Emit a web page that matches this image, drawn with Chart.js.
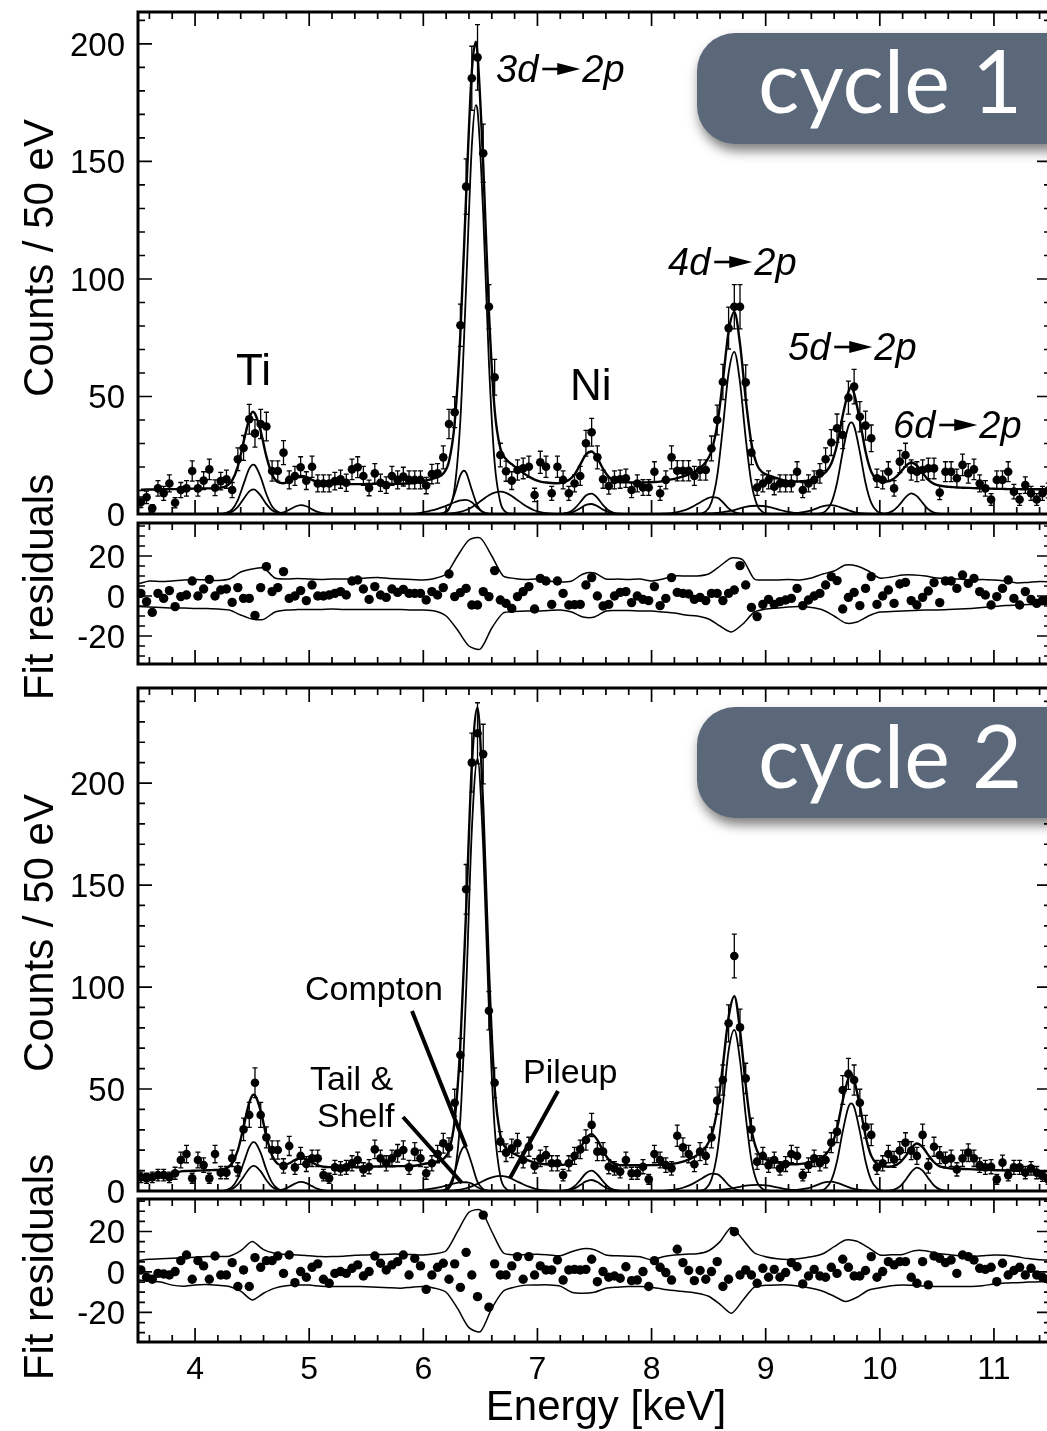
<!DOCTYPE html>
<html>
<head>
<meta charset="utf-8">
<script src="https://cdn.jsdelivr.net/npm/chart.js@4.4.1/dist/chart.umd.min.js"></script>
<style>
html, body { margin: 0; padding: 0; background: #fff; }
body { width: 1047px; height: 1431px; position: relative; overflow: hidden; }
canvas { position: absolute; left: 0; }
</style>
</head>
<body>
<canvas id="specA" width="1060" height="540" style="top:0px"></canvas>
<canvas id="resA" width="1060" height="290" style="top:440px"></canvas>
<canvas id="specB" width="1060" height="535" style="top:682px"></canvas>
<canvas id="resB" width="1060" height="331" style="top:1100px"></canvas>
<script>
// 50 eV bins, first bin centre at 3.525 keV
const binStart = 3.525, binWidth = 0.05;

// cycle 1: counts per bin
const counts1 = [
  5.0, 7.1, 2.4, 10.9, 8.8, 13.0, 4.8, 10.2, 10.9, 18.3,
  10.9, 14.2, 19.0, 11.2, 14.0, 14.8, 10.2, 23.3, 28.1, 40.3,
  34.3, 38.3, 37.2, 18.3, 18.3, 26.1, 14.5, 16.2, 19.9, 14.2,
  20.1, 13.0, 13.0, 13.0, 14.0, 14.8, 13.3, 19.0, 19.9, 16.2,
  11.1, 17.3, 13.3, 12.3, 16.2, 14.5, 15.9, 14.5, 14.5, 14.5,
  12.1, 17.0, 17.3, 24.1, 38.3, 43.3, 80.3, 139.3, 185.4, 194.3,
  153.5, 88.2, 58.2, 25.1, 18.2, 14.2, 18.7, 19.4, 20.1, 8.1,
  22.0, 20.1, 8.8, 20.1, 14.5, 8.8, 13.0, 16.2, 30.1, 34.8,
  24.1, 14.8, 11.9, 14.5, 14.8, 15.2, 10.2, 13.0, 11.3, 11.3,
  18.0, 8.8, 14.5, 24.1, 18.4, 18.4, 18.4, 16.2, 18.7, 18.7,
  27.9, 40.0, 56.2, 79.1, 88.2, 88.2, 56.0, 26.1, 11.3, 13.0,
  14.5, 11.6, 13.0, 13.0, 13.0, 18.0, 10.2, 13.0, 14.5, 17.3,
  23.3, 30.4, 36.5, 33.6, 49.5, 54.2, 41.4, 37.6, 32.2, 15.2,
  14.5, 18.0, 10.9, 22.3, 25.1, 18.7, 18.0, 18.7, 19.4, 19.4,
  9.1, 18.0, 18.0, 15.2, 20.9, 17.3, 19.0, 13.0, 10.9, 6.2,
  14.5, 14.5, 18.0, 9.5, 6.2, 12.3, 8.8, 6.2, 8.8, 10.0
];

// cycle 1: total fit at bin centres, plus apex points
const fit1 = [
  10.3, 10.4, 10.4, 10.5, 10.5, 10.6, 10.6, 10.7, 10.7, 10.8,
  10.8, 10.9, 10.9, 11.0, 11.2, 11.9, 14.3, 20.3, 30.6, 40.5,
  42.7, 35.3, 24.5, 16.8, 13.6, 13.1, 14.0, 15.4, 16.2, 15.8,
  14.5, 13.5, 12.9, 12.7, 12.7, 12.7, 12.7, 12.7, 12.7, 12.7,
  12.8, 12.8, 12.8, 12.8, 12.8, 12.9, 12.9, 13.0, 13.1, 13.7,
  14.3, 14.9, 15.7, 17.2, 22.4, 38.9, 76.9, 135.2, 188.2, 195.7,
  148.8, 85.9, 44.4, 28.0, 23.3, 21.2, 19.3, 17.5, 15.9, 14.6,
  13.8, 13.4, 13.2, 13.1, 13.5, 14.5, 16.8, 21.0, 25.3, 26.6,
  23.8, 19.2, 15.8, 14.1, 13.6, 13.5, 13.4, 13.4, 13.4, 13.5,
  13.6, 13.8, 14.2, 14.7, 15.3, 16.0, 16.9, 18.0, 19.6, 22.0,
  26.8, 37.8, 56.8, 77.6, 86.0, 72.4, 48.9, 30.1, 20.8, 17.6,
  16.4, 15.6, 14.8, 14.1, 13.9, 13.8, 14.0, 14.2, 15.0, 16.1,
  17.8, 21.5, 29.5, 41.9, 52.0, 51.2, 39.9, 26.6, 18.0, 14.6,
  13.8, 14.0, 15.1, 17.4, 20.3, 21.9, 20.6, 17.5, 14.5, 12.8,
  12.1, 11.7, 11.5, 11.3, 11.2, 11.1, 11.0, 10.9, 10.8, 10.8,
  10.7, 10.7, 10.6, 10.6, 10.6, 10.5, 10.5, 10.5, 10.5, 10.4
];
const fitPeaks1 = [[4.505, 43.5], [6.46, 201.0], [9.75, 54.0]];

// cycle 1: fit components [keV, counts]
const c1TiA = [[4.175,0],[4.225,0.1],[4.275,0.5],[4.325,2.0],[4.375,5.9],[4.425,12.7],[4.475,19.3],[4.51,21.0],[4.525,20.7],[4.575,15.7],[4.625,8.4],[4.675,3.2],[4.725,0.9],[4.775,0.2],[4.825,0]];
const c1TiB = [[4.225,0],[4.275,0.25],[4.325,1.0],[4.375,3.0],[4.425,6.4],[4.475,9.6],[4.51,10.5],[4.525,10.3],[4.575,7.8],[4.625,4.2],[4.675,1.6],[4.725,0.45],[4.775,0.1],[4.825,0]];
const c1TiKb = [[4.675,0],[4.725,0.2],[4.775,0.7],[4.825,1.8],[4.875,3.1],[4.925,3.8],[4.975,3.3],[5.025,2.0],[5.075,0.9],[5.125,0.3],[5.175,0]];
const c1Tail3d = [[5.925,0],[5.975,0.5],[6.025,1.0],[6.075,1.5],[6.125,2.2],[6.175,3.0],[6.225,4.0],[6.275,5.0],[6.325,5.8],[6.375,6.0],[6.425,5.0],[6.475,2.5],[6.525,0.8],[6.575,0.1],[6.625,0]];
const c1Compton3d = [[6.125,0],[6.175,0.4],[6.225,2.5],[6.275,8.6],[6.325,16.5],[6.355,18.4],[6.375,17.6],[6.425,10.3],[6.475,3.4],[6.525,0.6],[6.575,0]];
const c1Main3d = [[6.125,0],[6.175,0.3],[6.225,2.2],[6.275,11.3],[6.325,40.2],[6.375,96.4],[6.425,156.5],[6.46,174],[6.475,171.8],[6.525,127.6],[6.575,64.3],[6.625,21.8],[6.675,5.0],[6.725,0.8],[6.775,0.1],[6.825,0]];
const c1Pileup3d = [[6.175,0],[6.225,0.2],[6.275,0.45],[6.325,0.9],[6.375,1.7],[6.425,2.9],[6.475,4.5],[6.525,6.3],[6.575,8.0],[6.625,9.1],[6.675,9.5],[6.725,9.0],[6.775,7.7],[6.825,5.9],[6.875,4.2],[6.925,2.7],[6.975,1.5],[7.025,0.8],[7.075,0.4],[7.125,0.15],[7.175,0]];
const c1NiA = [[7.175,0],[7.225,0.2],[7.275,0.7],[7.325,2.3],[7.375,5.0],[7.425,7.9],[7.475,8.7],[7.525,6.9],[7.575,3.8],[7.625,1.5],[7.675,0.4],[7.725,0.1],[7.775,0]];
const c1NiB = [[7.225,0],[7.275,0.35],[7.325,1.1],[7.375,2.45],[7.425,3.85],[7.475,4.25],[7.525,3.35],[7.575,1.85],[7.625,0.75],[7.675,0.2],[7.725,0]];
const c1Compton4d = [[8.075,0],[8.125,0.2],[8.175,0.4],[8.225,0.8],[8.275,1.4],[8.325,2.3],[8.375,3.5],[8.425,4.9],[8.475,6.3],[8.525,7.2],[8.575,7.0],[8.625,5.0],[8.675,2.4],[8.725,0.8],[8.775,0.2],[8.825,0]];
const c1Main4d = [[8.375,0],[8.425,0.2],[8.475,1.1],[8.525,5.0],[8.575,16.1],[8.625,36.9],[8.675,60.0],[8.725,69.0],[8.775,56.0],[8.825,32.2],[8.875,13.1],[8.925,3.8],[8.975,0.8],[9.025,0.1],[9.075,0]];
const c1Pileup4d = [[8.425,0],[8.475,0.2],[8.525,0.3],[8.575,0.5],[8.625,0.8],[8.675,1.2],[8.725,1.7],[8.775,2.4],[8.825,3.0],[8.875,3.4],[8.925,3.5],[8.975,3.4],[9.025,3.0],[9.075,2.4],[9.125,1.7],[9.175,1.1],[9.225,0.7],[9.275,0.4],[9.325,0.2],[9.375,0]];
const c1Compton5d = [[9.175,0],[9.225,0.2],[9.275,0.4],[9.325,0.8],[9.375,1.2],[9.425,2.0],[9.475,2.9],[9.525,3.6],[9.575,3.8],[9.625,3.3],[9.675,2.5],[9.725,1.6],[9.775,0.8],[9.825,0.4],[9.875,0.2],[9.925,0]];
const c1Main5d = [[9.425,0],[9.475,0.2],[9.525,1.2],[9.575,4.7],[9.625,13.2],[9.675,26.4],[9.725,37.4],[9.75,39.0],[9.775,37.4],[9.825,26.4],[9.875,13.2],[9.925,4.7],[9.975,1.2],[10.025,0.2],[10.075,0]];
const c1Main6d = [[9.975,0],[10.025,0.1],[10.075,0.5],[10.125,1.7],[10.175,4.1],[10.225,7.1],[10.275,8.8],[10.325,7.6],[10.375,4.7],[10.425,2.0],[10.475,0.6],[10.525,0.15],[10.575,0]];

// cycle 1: fit residuals per bin
const resid1 = [
  1.3, -2.8, -8.2, 1.3, -1.2, 2.7, -5.3, -0.3, 0.5, 7.5,
  0.0, 3.5, 8.3, 0.0, 3.0, 3.5, -3.2, 4.2, -1.2, -1.2,
  -9.7, 4.2, 14.7, 2.2, 4.2, 12.2, -1.2, 0.0, 2.7, -2.3,
  5.5, 0.0, 0.0, 0.5, 1.3, 2.2, 0.5, 7.5, 8.0, 3.5,
  -1.7, 4.7, 0.5, -0.7, 3.5, 1.8, 3.3, 1.3, 1.3, 1.3,
  -2.0, 2.2, 0.5, 4.2, 11.0, -0.3, 1.7, 3.8, -4.5, -4.5,
  2.2, -0.3, 12.7, -2.0, -3.7, -6.2, -0.3, 2.2, 4.7, -6.5,
  8.8, 7.5, -4.2, 7.5, 1.3, -4.5, -4.3, -4.2, 5.5, 9.2,
  0.0, -5.0, -4.2, 0.0, 1.8, 2.2, -3.3, 0.0, -1.7, -2.3,
  4.7, -4.8, -1.2, 9.2, 1.8, 1.3, 1.0, -1.7, -0.7, -2.3,
  1.3, 1.3, -2.3, 1.3, 3.0, 15.2, 5.5, -5.7, -10.3, -4.2,
  -1.7, -4.2, -2.8, -2.0, -1.2, 3.8, -4.8, -2.0, 0.0, 1.3,
  5.5, 9.7, 7.7, -6.5, -0.7, 1.8, -4.8, 3.8, 9.7, -4.2,
  0.0, 3.0, -3.7, 6.0, 6.8, -2.3, -4.5, -0.7, 2.5, 6.7,
  -3.3, 7.5, 7.5, 3.8, 10.5, 6.3, 8.8, 2.2, 0.5, -4.5,
  -0.3, 3.8, 8.0, -1.2, -4.5, 2.2, -1.7, -3.7, -2.3, -2.0
];

// residual envelope, sampled every 0.1 keV from 3.5 keV
const band1Hi = [
  6.0, 7.5, 7.2, 7.5, 8.0, 8.2, 8.0, 7.8, 8.5, 12.0,
  13.5, 14.0, 9.0, 8.5, 8.8, 8.5, 8.3, 8.5, 8.5, 8.6,
  9.0, 9.2, 8.8, 8.5, 8.3, 8.0, 8.8, 11.0, 20.0, 28.0,
  29.0, 20.0, 10.0, 8.8, 8.3, 8.5, 7.5, 7.0, 7.5, 11.0,
  11.5, 8.5, 8.5, 8.3, 8.5, 7.5, 8.5, 10.0, 10.0, 10.0,
  11.0, 15.0, 19.0, 18.0, 8.5, 8.0, 8.0, 8.2, 8.0, 9.0,
  11.0, 12.5, 15.5, 15.0, 12.5, 9.0, 9.5, 10.5, 10.5, 10.0,
  9.0, 8.8, 8.5, 8.0, 8.3, 8.0, 7.5, 6.5, 6.8, 7.2,
  7.0
];
const band1Lo = [
  -5.3, -5.5, -5.7, -6.0, -6.0, -6.2, -6.2, -6.5, -7.0, -9.5,
  -11.5, -11.7, -8.0, -7.0, -6.8, -6.7, -6.7, -6.5, -6.7, -6.7,
  -6.8, -6.7, -6.8, -6.7, -7.0, -7.0, -7.5, -10.0, -17.0, -25.0,
  -26.5, -16.0, -8.5, -7.8, -7.5, -7.5, -7.2, -7.0, -8.0, -10.5,
  -10.5, -7.5, -7.3, -7.3, -7.5, -7.5, -8.0, -8.5, -9.5, -10.0,
  -11.5, -15.0, -18.0, -14.0, -8.0, -6.5, -6.0, -5.5, -5.3, -5.8,
  -7.0, -10.0, -13.5, -13.0, -10.0, -8.0, -7.8, -7.5, -7.3, -7.0,
  -7.0, -6.8, -6.5, -6.2, -5.8, -5.3, -4.8, -4.5, -4.3, -4.3,
  -4.3
];

// cycle 2: counts per bin
const counts2 = [
  6.7, 6.2, 6.7, 7.8, 7.8, 6.7, 8.7, 15.2, 18.1, 6.2,
  15.2, 12.7, 6.2, 18.1, 9.0, 9.0, 16.0, 10.6, 30.2, 37.3,
  53.1, 37.3, 26.3, 20.1, 20.1, 12.3, 22.1, 11.6, 17.2, 13.2,
  16.0, 16.0, 7.8, 6.2, 11.6, 11.1, 11.6, 13.6, 15.2, 10.6,
  11.9, 20.4, 16.0, 13.6, 16.0, 18.5, 20.1, 11.6, 19.3, 16.0,
  8.7, 13.6, 18.1, 23.4, 21.4, 43.3, 66.7, 147.9, 210.0, 224.4,
  214.2, 88.4, 53.1, 24.2, 18.8, 20.9, 23.4, 15.2, 21.7, 12.3,
  16.0, 17.6, 13.6, 13.6, 7.8, 13.6, 17.2, 20.4, 25.0, 32.4,
  19.3, 19.3, 11.9, 11.1, 9.5, 15.2, 8.7, 8.7, 11.9, 5.7,
  18.1, 15.2, 12.7, 11.1, 27.1, 21.4, 18.1, 13.1, 19.3, 17.2,
  26.3, 44.3, 54.4, 82.2, 115.2, 80.2, 55.2, 30.2, 14.4, 17.2,
  12.7, 15.2, 11.1, 13.2, 18.1, 17.2, 7.8, 12.7, 16.0, 13.6,
  15.2, 23.7, 29.1, 49.5, 57.4, 54.4, 43.3, 31.5, 27.5, 11.6,
  13.6, 18.1, 15.5, 19.8, 23.7, 19.8, 17.2, 27.5, 12.3, 21.7,
  17.6, 15.2, 16.0, 10.6, 16.0, 18.8, 16.0, 12.7, 11.6, 11.9,
  5.7, 13.9, 7.8, 11.6, 11.6, 9.0, 11.1, 9.0, 7.4, 5.7
];

const fit2 = [
  8.0, 8.0, 8.1, 8.1, 8.2, 8.2, 8.6, 9.6, 9.8, 9.9,
  10.0, 10.1, 10.2, 10.3, 10.5, 11.2, 13.6, 20.0, 31.4, 43.3,
  46.9, 39.3, 26.8, 17.4, 13.3, 12.6, 13.6, 15.2, 16.1, 15.5,
  14.0, 12.6, 11.9, 11.7, 11.7, 11.7, 11.8, 11.8, 11.8, 11.9,
  11.9, 12.0, 12.0, 12.1, 12.1, 12.2, 12.2, 12.3, 12.4, 12.9,
  13.5, 14.0, 14.5, 15.7, 19.9, 34.8, 72.3, 137.5, 208.7, 237.0,
  187.5, 107.8, 50.9, 27.4, 20.9, 18.9, 17.4, 16.1, 14.9, 14.0,
  13.4, 13.1, 12.9, 12.8, 12.8, 13.6, 16.1, 20.8, 25.9, 27.9,
  25.0, 19.7, 15.4, 13.4, 12.7, 12.6, 12.6, 12.6, 12.6, 12.7,
  12.7, 12.8, 13.0, 13.3, 13.7, 14.4, 15.4, 16.8, 18.6, 21.5,
  27.2, 39.8, 61.7, 85.2, 95.5, 78.9, 51.9, 30.3, 19.7, 16.1,
  15.1, 14.3, 13.7, 13.2, 13.1, 13.1, 13.4, 13.7, 14.6, 15.9,
  17.9, 22.0, 30.8, 44.4, 55.3, 54.4, 41.8, 27.0, 17.2, 13.3,
  12.1, 11.9, 12.3, 13.9, 17.0, 20.9, 23.3, 21.5, 17.6, 14.1,
  12.1, 11.5, 11.0, 10.9, 10.8, 10.7, 10.6, 10.5, 10.4, 10.3,
  10.2, 10.1, 10.0, 10.0, 9.9, 9.9, 9.8, 9.8, 9.7, 9.7
];
const fitPeaks2 = [[4.51, 47.2], [9.75, 57.5]];

const c2TiA = [[4.175,0],[4.225,0.07],[4.275,0.45],[4.325,2.0],[4.375,6.2],[4.425,13.7],[4.475,21.5],[4.51,24.0],[4.525,23.8],[4.575,18.7],[4.625,10.4],[4.675,4.1],[4.725,1.1],[4.775,0.2],[4.825,0]];
const c2TiB = [[4.225,0],[4.275,0.23],[4.325,1.0],[4.375,3.2],[4.425,7.0],[4.475,11.0],[4.51,12.3],[4.525,12.2],[4.575,9.6],[4.625,5.3],[4.675,2.1],[4.725,0.6],[4.775,0.1],[4.825,0]];
const c2TiKb = [[4.675,0],[4.725,0.25],[4.775,0.85],[4.825,2.1],[4.875,3.6],[4.925,4.5],[4.975,3.9],[5.025,2.4],[5.075,1.0],[5.125,0.3],[5.175,0]];
const c2Tail3d = [[5.925,0],[5.975,0.4],[6.025,0.8],[6.075,1.2],[6.125,1.7],[6.175,2.3],[6.225,3.0],[6.275,3.7],[6.325,4.2],[6.375,4.3],[6.425,3.6],[6.475,1.8],[6.525,0.6],[6.575,0.1],[6.625,0]];
const c2Compton3d = [[6.125,0],[6.175,0.4],[6.225,2.5],[6.275,9.2],[6.325,18.8],[6.36,21.7],[6.375,21.1],[6.425,13.2],[6.475,4.5],[6.525,0.9],[6.575,0.1],[6.625,0]];
const c2Main3d = [[6.125,0],[6.175,0.15],[6.225,1.4],[6.275,8.7],[6.325,35.8],[6.375,97.9],[6.425,176.8],[6.475,212.0],[6.525,168.3],[6.575,88.6],[6.625,31.0],[6.675,7.2],[6.725,1.1],[6.775,0.1],[6.825,0]];
const c2Pileup3d = [[6.175,0],[6.225,0.15],[6.275,0.35],[6.325,0.7],[6.375,1.35],[6.425,2.3],[6.475,3.5],[6.525,4.9],[6.575,6.2],[6.625,7.1],[6.675,7.4],[6.725,7.0],[6.775,6.0],[6.825,4.6],[6.875,3.3],[6.925,2.1],[6.975,1.2],[7.025,0.6],[7.075,0.3],[7.125,0.1],[7.175,0]];
const c2NiA = [[7.175,0],[7.225,0.16],[7.275,0.72],[7.325,2.3],[7.375,5.35],[7.425,8.7],[7.475,10.0],[7.525,8.1],[7.575,4.7],[7.625,1.9],[7.675,0.55],[7.725,0.1],[7.775,0]];
const c2NiB = [[7.175,0],[7.225,0.08],[7.275,0.4],[7.325,1.26],[7.375,2.9],[7.425,4.7],[7.475,5.4],[7.525,4.4],[7.575,2.5],[7.625,1.0],[7.675,0.3],[7.725,0.06],[7.775,0]];
const c2Compton4d = [[8.075,0],[8.125,0.2],[8.175,0.5],[8.225,0.9],[8.275,1.6],[8.325,2.6],[8.375,4.0],[8.425,5.6],[8.475,7.3],[8.525,8.5],[8.575,8.3],[8.625,6.0],[8.675,2.9],[8.725,1.0],[8.775,0.25],[8.825,0]];
const c2Main4d = [[8.375,0],[8.425,0.2],[8.475,1.2],[8.525,5.7],[8.575,18.4],[8.625,42.3],[8.675,68.7],[8.725,79.0],[8.775,64.1],[8.825,36.8],[8.875,15.0],[8.925,4.3],[8.975,0.9],[9.025,0.15],[9.075,0]];
const c2Pileup4d = [[8.425,0],[8.475,0.17],[8.525,0.26],[8.575,0.43],[8.625,0.7],[8.675,1.0],[8.725,1.5],[8.775,2.05],[8.825,2.6],[8.875,2.9],[8.925,3.0],[8.975,2.9],[9.025,2.6],[9.075,2.05],[9.125,1.5],[9.175,0.95],[9.225,0.6],[9.275,0.35],[9.325,0.17],[9.375,0]];
const c2Compton5d = [[9.175,0],[9.225,0.25],[9.275,0.5],[9.325,1.0],[9.375,1.45],[9.425,2.4],[9.475,3.5],[9.525,4.35],[9.575,4.6],[9.625,4.0],[9.675,3.0],[9.725,1.9],[9.775,1.0],[9.825,0.5],[9.875,0.25],[9.925,0]];
const c2Main5d = [[9.425,0],[9.475,0.2],[9.525,1.3],[9.575,5.2],[9.625,14.6],[9.675,29.2],[9.725,41.2],[9.75,43.0],[9.775,41.2],[9.825,29.2],[9.875,14.6],[9.925,5.2],[9.975,1.3],[10.025,0.2],[10.075,0]];
const c2Main6d = [[10.025,0],[10.075,0.13],[10.125,0.63],[10.175,2.2],[10.225,5.4],[10.275,9.3],[10.325,11.5],[10.375,10.0],[10.425,6.2],[10.475,2.7],[10.525,0.8],[10.575,0.2],[10.625,0]];

const resid2 = [
  1.0, -2.6, -3.6, -0.7, -1.0, -1.5, 0.2, 5.6, 8.4, -3.6,
  5.6, 3.0, -3.6, 7.9, -1.5, -1.5, 4.6, -7.2, 1.0, -7.2,
  7.1, 2.3, 5.6, 5.6, 7.9, -0.7, 8.4, -5.3, 0.2, -2.6,
  2.3, 4.0, -3.6, -5.6, -0.7, 0.2, -0.7, 1.8, 3.5, -2.0,
  0.2, 7.9, 4.3, 1.0, 3.5, 5.1, 8.4, -1.5, 6.7, 3.0,
  -8.6, -1.5, 2.3, 4.3, -3.6, 4.0, -7.6, 9.7, -1.5, -12.2,
  28.1, -17.4, 4.0, -1.5, -1.5, 3.0, 7.6, -3.6, 7.6, -1.5,
  3.0, 1.0, 1.0, 5.9, -4.0, 1.0, 1.3, 1.0, 1.3, 6.3,
  -4.8, 0.2, -2.6, -2.0, -3.1, 2.6, -4.3, -4.0, 0.2, -7.2,
  5.6, 2.3, -0.3, -4.0, 11.2, 4.6, 0.7, -4.3, 0.7, -3.6,
  0.2, 5.1, -7.2, -3.6, 19.9, -1.5, 1.0, -1.5, -5.6, 1.8,
  -2.6, 1.3, -2.6, -0.3, 4.6, 2.6, -5.9, -2.0, 1.3, -2.0,
  -2.6, 2.3, -0.7, 6.3, 2.3, -2.0, -2.0, 0.7, 7.6, -2.6,
  0.2, 5.1, 3.5, 5.1, 5.1, -2.6, -5.6, 5.1, -6.4, 7.9,
  6.7, 4.6, 5.9, -0.7, 8.4, 7.6, 5.9, 1.8, 1.3, 2.3,
  -4.8, 4.3, -1.5, 0.7, 2.3, -1.5, 1.8, -1.5, -2.6, -3.6
];

const band2Hi = [
  5.6, 6.3, 6.5, 6.8, 7.0, 7.3, 7.6, 7.6, 7.8, 10.5,
  15.0, 11.0, 9.2, 8.6, 8.4, 8.0, 7.6, 7.6, 7.8, 8.2,
  8.4, 8.6, 8.8, 8.8, 8.6, 8.4, 9.0, 10.5, 20.0, 29.5,
  30.6, 20.0, 9.5, 8.4, 8.5, 8.7, 8.4, 8.0, 10.0, 11.5,
  11.0, 8.4, 8.0, 7.8, 7.5, 6.0, 7.5, 8.4, 8.8, 9.0,
  10.5, 15.0, 22.0, 16.0, 9.5, 7.5, 6.5, 6.2, 6.7, 7.5,
  9.0, 12.5, 15.8, 15.2, 12.0, 8.4, 8.5, 8.6, 10.5, 10.5,
  9.2, 8.6, 8.0, 7.6, 8.0, 8.4, 8.2, 7.5, 6.6, 6.0,
  5.9
];
const band2Lo = [
  -4.0, -4.5, -5.0, -6.5, -7.0, -6.4, -6.2, -6.6, -7.2, -9.5,
  -13.8, -10.5, -8.0, -6.8, -6.4, -6.5, -7.0, -7.2, -7.2, -7.2,
  -7.3, -7.5, -7.8, -8.0, -7.5, -7.2, -8.0, -10.0, -18.0, -27.5,
  -29.5, -18.0, -9.5, -7.5, -6.5, -6.4, -6.4, -7.0, -10.0, -10.5,
  -10.0, -8.0, -7.5, -7.2, -7.2, -7.5, -8.5, -9.2, -9.8, -10.5,
  -12.0, -16.0, -20.4, -14.0, -7.5, -6.6, -6.4, -6.4, -7.0, -8.0,
  -9.5, -12.0, -14.6, -12.5, -9.0, -7.8, -6.8, -6.4, -6.6, -7.0,
  -7.2, -7.2, -7.2, -7.2, -6.8, -6.0, -5.5, -5.3, -5.0, -4.8,
  -4.8
];

const xTickLabels = [4, 5, 6, 7, 8, 9, 10, 11];
const countTickLabels = [0, 50, 100, 150, 200];
const residTickLabels = [-20, 0, 20];

const energies = counts1.map((_, k) => Math.round((binStart + binWidth * k) * 1000) / 1000);
const bandE = band1Hi.map((_, k) => Math.round((3.5 + 0.1 * k) * 10) / 10);

const FONT = '"Liberation Sans", Arial, Helvetica, sans-serif';

function xy(es, vs) { return vs.map((v, i) => ({ x: es[i], y: v })); }
function pairs(list) { return list.map(p => ({ x: p[0], y: p[1] })); }
function withPeaks(es, vs, peaks) {
  return xy(es, vs).concat(pairs(peaks)).sort((a, b) => a.x - b.x);
}

// inward ticks, frame, tick labels and axis title
function frame(cfg) {
  return {
    id: 'frame',
    afterDatasetsDraw(chart) {
      const { ctx, chartArea: a, scales: { x, y } } = chart;
      ctx.save();
      ctx.strokeStyle = '#000';
      ctx.lineWidth = 1.7;
      ctx.beginPath();
      for (let i = 18; i <= 57; i++) {
        const px = x.getPixelForValue(i / 5);
        const len = i % 5 === 0 ? 14 : 7;
        ctx.moveTo(px, a.bottom); ctx.lineTo(px, a.bottom - len);
        ctx.moveTo(px, a.top); ctx.lineTo(px, a.top + len);
      }
      for (let v = cfg.yStart; v < y.max; v += cfg.yMinor) {
        if (v <= y.min) continue;
        const py = y.getPixelForValue(v);
        const len = Math.abs(v % cfg.yMajor) < 1e-6 ? 14 : 7;
        ctx.moveTo(a.left, py); ctx.lineTo(a.left + len, py);
        ctx.moveTo(a.right, py); ctx.lineTo(a.right - len, py);
      }
      ctx.stroke();
      ctx.lineWidth = 3;
      ctx.strokeRect(a.left, a.top, a.right - a.left, a.bottom - a.top);

      ctx.fillStyle = '#000';
      ctx.font = '33px ' + FONT;
      ctx.textAlign = 'right';
      ctx.textBaseline = 'alphabetic';
      cfg.yLabels.forEach(v => ctx.fillText(String(v), a.left - 13, y.getPixelForValue(v) + 12));
      if (cfg.xLabels) {
        ctx.font = '32px ' + FONT;
        ctx.textAlign = 'center';
        cfg.xLabels.forEach(v => ctx.fillText(String(v), x.getPixelForValue(v), a.bottom + 37));
        ctx.font = '42px ' + FONT;
        ctx.fillText('Energy [keV]', 606, a.bottom + 78);
      }
      ctx.font = '42px ' + FONT;
      ctx.save();
      ctx.translate(53, cfg.titleY);
      ctx.rotate(-Math.PI / 2);
      ctx.textAlign = 'center';
      ctx.fillText(cfg.title, 0, 0);
      ctx.restore();
      ctx.restore();
    }
  };
}

// sqrt(N) error bars on dataset 0
const errorBars = {
  id: 'errorBars',
  afterDatasetsDraw(chart) {
    const ds = chart.data.datasets[0];
    if (!ds.errors) return;
    const meta = chart.getDatasetMeta(0);
    const { ctx, chartArea: a } = chart;
    const y = chart.scales.y;
    ctx.save();
    ctx.beginPath();
    ctx.rect(a.left, a.top, a.right - a.left, a.bottom - a.top);
    ctx.clip();
    ctx.strokeStyle = '#000';
    ctx.lineWidth = 1.3;
    ctx.beginPath();
    meta.data.forEach((pt, i) => {
      const v = ds.data[i].y, e = ds.errors[i];
      const t = y.getPixelForValue(v + e), b = y.getPixelForValue(v - e);
      ctx.moveTo(pt.x, t); ctx.lineTo(pt.x, b);
      ctx.moveTo(pt.x - 2.5, t); ctx.lineTo(pt.x + 2.5, t);
      ctx.moveTo(pt.x - 2.5, b); ctx.lineTo(pt.x + 2.5, b);
    });
    ctx.stroke();
    ctx.restore();
  }
};

function transition(ctx, x, y, from, to) {
  ctx.font = 'italic 38px ' + FONT;
  ctx.textAlign = 'left';
  ctx.textBaseline = 'alphabetic';
  ctx.fillText(from, x, y);
  const sx = x + ctx.measureText(from).width + 4;
  const ay = y - 13;
  ctx.lineWidth = 2.6;
  ctx.beginPath(); ctx.moveTo(sx, ay); ctx.lineTo(sx + 18, ay); ctx.stroke();
  ctx.beginPath();
  ctx.moveTo(sx + 15, ay - 6); ctx.lineTo(sx + 38, ay); ctx.lineTo(sx + 15, ay + 6);
  ctx.closePath(); ctx.fill();
  ctx.fillText(to, sx + 40, y);
}

function badge(ctx, x, top, h, text, baseline) {
  const r = 38, w = 600;
  ctx.save();
  ctx.shadowColor = 'rgba(0,0,0,0.5)';
  ctx.shadowBlur = 12;
  ctx.shadowOffsetX = 2;
  ctx.shadowOffsetY = 7;
  ctx.fillStyle = '#5b6879';
  ctx.beginPath();
  ctx.moveTo(x + r, top);
  ctx.lineTo(x + w, top);
  ctx.lineTo(x + w, top + h);
  ctx.lineTo(x + r, top + h);
  ctx.arcTo(x, top + h, x, top + h - r, r);
  ctx.lineTo(x, top + r);
  ctx.arcTo(x, top, x + r, top, r);
  ctx.closePath();
  ctx.fill();
  ctx.restore();
  ctx.save();
  ctx.font = '400 100px Lato, "Open Sans", sans-serif';
  const size = 100 * 264 / ctx.measureText('cycle 1').width;
  ctx.font = '400 ' + size.toFixed(1) + 'px Lato, "Open Sans", sans-serif';
  ctx.fillStyle = '#fff';
  ctx.textAlign = 'left';
  ctx.textBaseline = 'alphabetic';
  ctx.fillText(text, 758, baseline);
  ctx.restore();
}

const labelsA = {
  id: 'labelsA',
  afterDraw(chart) {
    const ctx = chart.ctx;
    ctx.save();
    ctx.fillStyle = '#000';
    ctx.strokeStyle = '#000';
    transition(ctx, 496, 82, '3d', '2p');
    transition(ctx, 668, 275, '4d', '2p');
    transition(ctx, 788, 360, '5d', '2p');
    transition(ctx, 893, 438, '6d', '2p');
    ctx.font = '44px ' + FONT;
    ctx.textAlign = 'left';
    ctx.fillText('Ti', 236, 385);
    ctx.fillText('Ni', 570, 400);
    badge(ctx, 697, 33, 111, 'cycle 1', 113);
    ctx.restore();
  }
};

const labelsB = {
  id: 'labelsB',
  afterDraw(chart) {
    const ctx = chart.ctx;
    ctx.save();
    ctx.fillStyle = '#000';
    ctx.strokeStyle = '#000';
    ctx.font = '34px ' + FONT;
    ctx.textAlign = 'left';
    ctx.fillText('Compton', 305, 318);
    ctx.fillText('Tail &', 310, 408);
    ctx.fillText('Shelf', 317, 445);
    ctx.fillText('Pileup', 523, 401);
    ctx.lineWidth = 4;
    ctx.beginPath();
    ctx.moveTo(412, 329); ctx.lineTo(466, 465);
    ctx.moveTo(403, 435); ctx.lineTo(462, 501);
    ctx.moveTo(558, 409); ctx.lineTo(510, 496);
    ctx.stroke();
    badge(ctx, 697, 25, 111, 'cycle 2', 106);
    ctx.restore();
  }
};

function spectrumData(counts, fit, peaks, comps) {
  const ds = [{
    type: 'scatter',
    data: xy(energies, counts),
    errors: counts.map(Math.sqrt),
    pointRadius: 4.3,
    pointBackgroundColor: '#000',
    pointBorderWidth: 0
  }, {
    type: 'line',
    data: withPeaks(energies, fit, peaks),
    borderColor: '#000',
    borderWidth: 2.4,
    pointRadius: 0,
    cubicInterpolationMode: 'monotone',
    fill: false
  }];
  comps.forEach(c => ds.push({
    type: 'line',
    data: pairs(c),
    borderColor: '#000',
    borderWidth: 1.8,
    pointRadius: 0,
    cubicInterpolationMode: 'monotone',
    fill: false
  }));
  return ds;
}

function residualData(resid, hi, lo) {
  const line = vs => ({
    type: 'line',
    data: xy(bandE, vs),
    borderColor: '#000',
    borderWidth: 1.5,
    pointRadius: 0,
    tension: 0.25,
    fill: false
  });
  return [{
    type: 'scatter',
    data: xy(energies, resid),
    pointRadius: 4.7,
    pointBackgroundColor: '#000',
    pointBorderWidth: 0
  }, line(hi), line(lo)];
}

function makeChart(id, datasets, yMin, yMax, padding, plugins) {
  return new Chart(document.getElementById(id), {
    type: 'scatter',
    data: { datasets },
    options: {
      responsive: false,
      animation: false,
      events: [],
      layout: { padding },
      scales: {
        x: { type: 'linear', min: 3.5, max: 11.5, display: false },
        y: { type: 'linear', min: yMin, max: yMax, display: false }
      },
      plugins: { legend: { display: false }, tooltip: { enabled: false } }
    },
    plugins
  });
}

const comps1 = [c1TiA, c1TiB, c1TiKb, c1Tail3d, c1Compton3d, c1Main3d, c1Pileup3d, c1NiA, c1NiB,
  c1Compton4d, c1Main4d, c1Pileup4d, c1Compton5d, c1Main5d, c1Main6d];
const comps2 = [c2TiA, c2TiB, c2TiKb, c2Tail3d, c2Compton3d, c2Main3d, c2Pileup3d, c2NiA, c2NiB,
  c2Compton4d, c2Main4d, c2Pileup4d, c2Compton5d, c2Main5d, c2Main6d];

makeChart('specA', spectrumData(counts1, fit1, fitPeaks1, comps1), 0, 213.6,
  { left: 138, right: 9, top: 12, bottom: 26 },
  [errorBars, frame({ yStart: 10, yMinor: 10, yMajor: 50, yLabels: countTickLabels, title: 'Counts / 50 eV', titleY: 258 }), labelsA]);

makeChart('resA', residualData(resid1, band1Hi, band1Lo), -34, 36.5,
  { left: 138, right: 9, top: 83, bottom: 66 },
  [frame({ yStart: -30, yMinor: 5, yMajor: 20, yLabels: residTickLabels, title: 'Fit residuals', titleY: 147 })]);

makeChart('specB', spectrumData(counts2, fit2, fitPeaks2, comps2), 0, 246.6,
  { left: 138, right: 9, top: 6, bottom: 26 },
  [errorBars, frame({ yStart: 10, yMinor: 10, yMajor: 50, yLabels: countTickLabels, title: 'Counts / 50 eV', titleY: 251 }), labelsB]);

makeChart('resB', residualData(resid2, band2Hi, band2Lo), -34.6, 36.05,
  { left: 138, right: 9, top: 99, bottom: 89 },
  [frame({ yStart: -30, yMinor: 5, yMajor: 20, yLabels: residTickLabels, title: 'Fit residuals', titleY: 167, xLabels: xTickLabels })]);
</script>
</body>
</html>
